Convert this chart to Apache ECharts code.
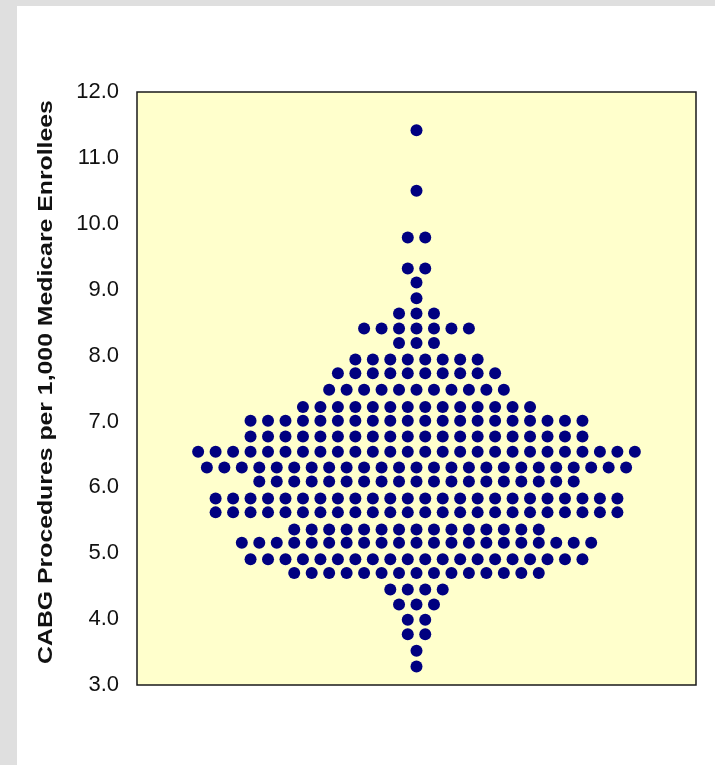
<!DOCTYPE html>
<html>
<head>
<meta charset="utf-8">
<script src="https://cdn.jsdelivr.net/npm/echarts@6/dist/echarts.min.js"></script>
<style>
  html, body { margin: 0; padding: 0; background: #fff; }
  #dotplot { width: 715px; height: 765px; }
</style>
</head>
<body>
<div id="dotplot"></div>
<script>
// rows of the dot plot: value of the row and how many regions sit on it
var rowValues = [11.42, 10.50, 9.79, 9.32, 9.11, 8.87, 8.64, 8.41, 8.19, 7.94,
                 7.73, 7.48, 7.22, 7.01, 6.77, 6.54, 6.30, 6.09, 5.83, 5.62,
                 5.36, 5.16, 4.91, 4.70, 4.45, 4.22, 3.99, 3.77, 3.52, 3.28];
var rowCounts = [1, 1, 2, 2, 1, 1, 3, 7, 3, 8,
                 10, 11, 14, 20, 20, 26, 25, 19, 24, 24,
                 15, 21, 20, 15, 4, 3, 2, 2, 1, 1];
var yTicks = [3, 4, 5, 6, 7, 8, 9, 10, 11, 12];
var yTitle = 'CABG Procedures per 1,000 Medicare Enrollees';

// dots are stacked side by side, centred on the middle column
var dots = [];
rowValues.forEach(function (v, i) {
    var n = rowCounts[i];
    for (var k = 0; k < n; k++) {
        dots.push([-(n - 1) + 2 * k, v]);
    }
});

var dotplot = echarts.init(document.getElementById('dotplot'));
function getDotOption() {
    return {
        backgroundColor: '#fff',
        animation: false,
        graphic: [
            { type: 'rect', left: 0, top: 0, shape: { width: 17, height: 765 }, style: { fill: '#dfdfdf' } },
            { type: 'rect', left: 0, top: 0, shape: { width: 715, height: 6 }, style: { fill: '#dfdfdf' } },
            // axis title, a bit stretched along its length like the original
            {
                type: 'text',
                x: 46,
                y: 382,
                rotation: Math.PI / 2,
                scaleX: 1.24,
                scaleY: 1,
                style: {
                    text: yTitle,
                    fontFamily: 'Liberation Sans, Arial, sans-serif',
                    fontWeight: 'bold',
                    fontSize: 20,
                    fill: '#111',
                    align: 'center',
                    verticalAlign: 'middle'
                }
            }
        ],
        grid: {
            left: 137,
            right: 19,
            top: 92,
            bottom: 80,
            show: true,
            backgroundColor: '#ffffcc',
            borderColor: '#1a1a1a',
            borderWidth: 1.5
        },
        xAxis: {
            type: 'value',
            min: -32,
            max: 32,
            show: false
        },
        yAxis: {
            type: 'value',
            min: yTicks[0],
            max: yTicks[yTicks.length - 1],
            interval: 1,
            axisLine: { show: false },
            axisTick: { show: false },
            splitLine: { show: false },
            axisLabel: {
                margin: 18,
                fontFamily: 'Liberation Sans, Arial, sans-serif',
                fontSize: 22,
                color: '#111',
                formatter: function (v) { return v.toFixed(1); }
            }
        },
        series: [
            {
                name: 'HRR',
                type: 'scatter',
                data: dots,
                symbol: 'circle',
                symbolSize: 12,
                itemStyle: { color: '#000080', opacity: 1 }
            }
        ]
    };
}
dotplot.setOption(getDotOption());
</script>
</body>
</html>
